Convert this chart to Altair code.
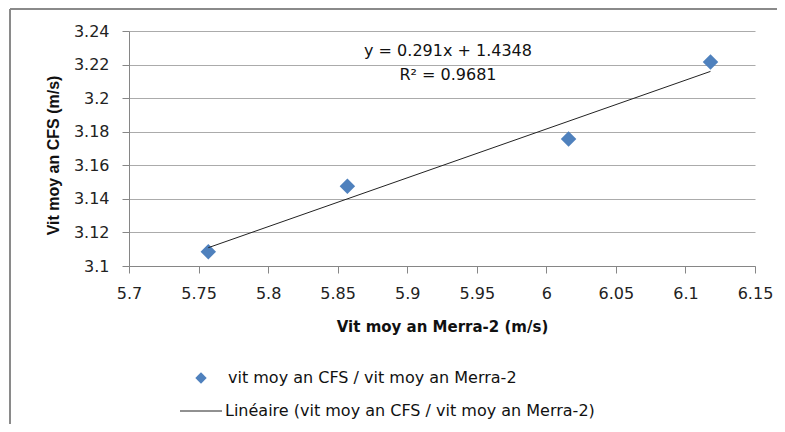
import altair as alt
import pandas as pd

# ---- data ----
merra = [5.757, 5.857, 6.016, 6.118]
cfs = [3.1085, 3.1475, 3.1756, 3.2215]
x_ticks = [5.7, 5.75, 5.8, 5.85, 5.9, 5.95, 6.0, 6.05, 6.1, 6.15]
y_ticks = [3.1, 3.12, 3.14, 3.16, 3.18, 3.2, 3.22, 3.24]
x_title = "Vit moy an Merra-2 (m/s)"
y_title = "Vit moy an CFS (m/s)"
series_name = "vit moy an CFS / vit moy an Merra-2"
trend_name = "Linéaire (vit moy an CFS / vit moy an Merra-2)"
eq_line = "y = 0.291x + 1.4348"
r2_line = "R² = 0.9681"

BLUE = "#4F81BD"
FONT = "DejaVu Sans"

df = pd.DataFrame({"merra": merra, "cfs": cfs})

xs = alt.Scale(domain=[x_ticks[0], x_ticks[-1]], nice=False, zero=False)
ys = alt.Scale(domain=[y_ticks[0], y_ticks[-1]], nice=False, zero=False)

x_axis = alt.Axis(values=x_ticks, format=".2~f", title=x_title, grid=False,
                  labelOverlap=False, labelFlush=False,
                  domainColor="#868686", tickColor="#868686", tickSize=7,
                  labelPadding=12, labelFont=FONT, labelFontSize=16, labelColor="#222",
                  titleFont=FONT, titleFontSize=15, titleFontWeight="bold", titleColor="#111",
                  titleX=313, titleY=60, titleBaseline="middle", titleAlign="center")
y_axis = alt.Axis(values=y_ticks, format=".2~f", title=y_title, grid=True,
                  labelOverlap=False, labelFlush=False,
                  gridColor="#ababab", domainColor="#868686", tickColor="#868686", tickSize=7,
                  labelPadding=13, labelFont=FONT, labelFontSize=16, labelColor="#222",
                  titleFont="Liberation Sans", titleFontSize=16, titleFontWeight="bold",
                  titleColor="#111", titleX=-76, titleY=124, titleAngle=-90,
                  titleBaseline="middle", titleAlign="center")

base = alt.Chart(df)

points = base.mark_point(shape="diamond", filled=True, size=240, opacity=1, color=BLUE).encode(
    x=alt.X("merra:Q", scale=xs, axis=x_axis),
    y=alt.Y("cfs:Q", scale=ys, axis=y_axis),
)

trend = base.transform_regression("merra", "cfs").mark_line(color="#222", strokeWidth=1).encode(
    x=alt.X("merra:Q", scale=xs, axis=x_axis),
    y=alt.Y("cfs:Q", scale=ys, axis=y_axis),
)

eq1 = alt.Chart(pd.DataFrame({"t": [eq_line]})).mark_text(
    font=FONT, fontSize=16, color="#111", align="center", baseline="middle").encode(
    x=alt.value(319), y=alt.value(20), text="t:N")
eq2 = alt.Chart(pd.DataFrame({"t": [r2_line]})).mark_text(
    font=FONT, fontSize=16, color="#111", align="center", baseline="middle").encode(
    x=alt.value(319), y=alt.value(44), text="t:N")

# frame (top and left border of the chart area)
frame_df = pd.DataFrame({"k": [0]})
frame_top = alt.Chart(frame_df).mark_rule(color="#8a8a8a", strokeWidth=2).encode(
    x=alt.value(-119), x2=alt.value(700), y=alt.value(-22))
frame_left = alt.Chart(frame_df).mark_rule(color="#8a8a8a", strokeWidth=2).encode(
    x=alt.value(-119), y=alt.value(-22), y2=alt.value(420))

# manual legend
leg_df = pd.DataFrame({"name": [series_name]})
leg_sym = alt.Chart(leg_df).mark_point(shape="diamond", filled=True, size=130, opacity=1,
                                       color=BLUE).encode(x=alt.value(72), y=alt.value(347))
leg_txt1 = alt.Chart(leg_df).mark_text(font=FONT, fontSize=16, color="#111", align="left",
                                       baseline="middle").encode(
    x=alt.value(99), y=alt.value(347), text="name:N")
leg2_df = pd.DataFrame({"name": [trend_name]})
leg_line = alt.Chart(leg2_df).mark_rule(color="#222", strokeWidth=1).encode(
    x=alt.value(51), x2=alt.value(93), y=alt.value(380))
leg_txt2 = alt.Chart(leg2_df).mark_text(font=FONT, fontSize=16, color="#111", align="left",
                                        baseline="middle").encode(
    x=alt.value(96), y=alt.value(380), text="name:N")

chart = alt.layer(
    frame_top, frame_left, points, trend, eq1, eq2, leg_sym, leg_txt1, leg_line, leg_txt2
).properties(
    width=626, height=235,
    autosize=alt.AutoSizeParams(type="none"),
    padding={"left": 121, "top": 23, "right": 22, "bottom": 158},
    background="white",
).configure_view(stroke=None)

chart.save("out.html", embed_options={"renderer": "svg", "actions": False})
